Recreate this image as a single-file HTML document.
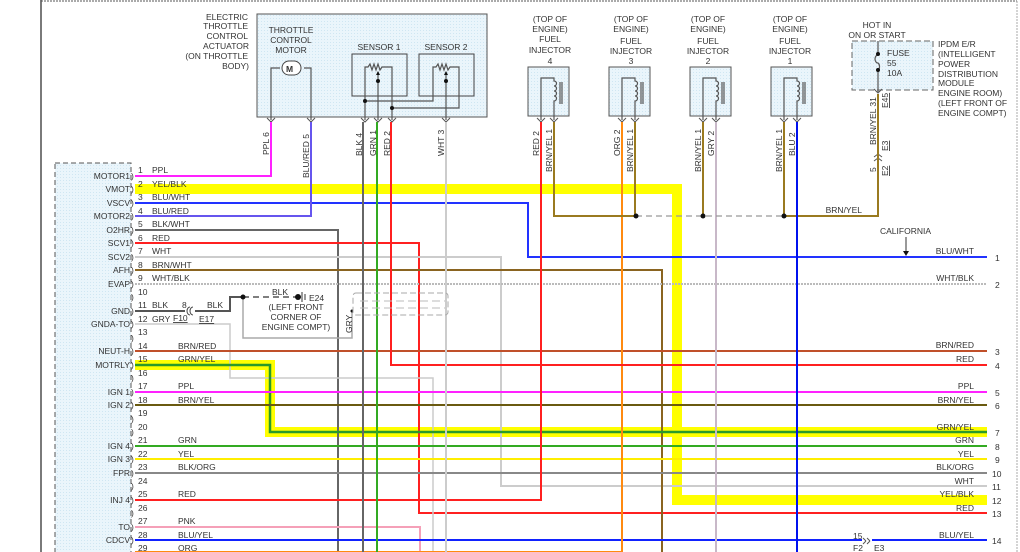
<!DOCTYPE html>
<html><head><meta charset="utf-8"><style>
html,body{margin:0;padding:0;background:#fff}
svg{display:block}
text{font-family:"Liberation Sans",sans-serif;font-size:8.5px;fill:#333}
</style></head><body>
<svg width="1020" height="552" viewBox="0 0 1020 552" xmlns="http://www.w3.org/2000/svg">
<defs>
<pattern id="dots" width="3" height="3" patternUnits="userSpaceOnUse"><rect width="3" height="3" fill="#eaf5fb"/><rect width="1" height="1" fill="#cfe6f2"/></pattern>
</defs>
<line x1="41" y1="0" x2="41" y2="552" stroke="#222" stroke-width="1.2"/>
<line x1="41" y1="1" x2="1017" y2="1" stroke="#555" stroke-dasharray="2,1"/>
<line x1="1017" y1="1" x2="1017" y2="552" stroke="#aaa" stroke-dasharray="2,1"/>

<rect x="55" y="163" width="76" height="395" fill="url(#dots)" stroke="#555" stroke-dasharray="5,3"/>
<g text-anchor="end">
<text x="130" y="179">MOTOR1</text><text x="130" y="192">VMOT</text><text x="130" y="206">VSCV</text><text x="130" y="219">MOTOR2</text>
<text x="130" y="233">O2HR</text><text x="130" y="246">SCV1</text><text x="130" y="260">SCV2</text><text x="130" y="273">AFH</text>
<text x="130" y="287">EVAP</text><text x="130" y="314">GND</text><text x="130" y="327">GNDA-TO</text><text x="130" y="354">NEUT-H</text>
<text x="130" y="368">MOTRLY</text><text x="130" y="395">IGN 1</text><text x="130" y="408">IGN 2</text><text x="130" y="449">IGN 4</text>
<text x="130" y="462">IGN 3</text><text x="130" y="476">FPR</text><text x="130" y="503">INJ 4</text><text x="130" y="530">TO</text><text x="130" y="543">CDCV</text>
</g>
<g font-size="8">
<text x="131" y="179">)</text><text x="131" y="192">)</text><text x="131" y="206">)</text><text x="131" y="219">)</text><text x="131" y="233">)</text><text x="131" y="246">)</text><text x="131" y="260">)</text><text x="131" y="273">)</text><text x="131" y="287">)</text><text x="131" y="300">)</text><text x="131" y="314">)</text><text x="131" y="327">)</text><text x="131" y="341">)</text><text x="131" y="354">)</text><text x="131" y="368">)</text><text x="131" y="381">)</text><text x="131" y="395">)</text><text x="131" y="408">)</text><text x="131" y="422">)</text><text x="131" y="435">)</text><text x="131" y="449">)</text><text x="131" y="462">)</text><text x="131" y="476">)</text><text x="131" y="489">)</text><text x="131" y="503">)</text><text x="131" y="516">)</text><text x="131" y="530">)</text><text x="131" y="543">)</text>
</g>

<g text-anchor="end"><text x="248" y="20">ELECTRIC</text><text x="248" y="29">THROTTLE</text><text x="248" y="39">CONTROL</text><text x="249" y="49">ACTUATOR</text><text x="248" y="59">(ON THROTTLE</text><text x="249" y="69">BODY)</text></g>
<rect x="257" y="14" width="230" height="103" fill="url(#dots)" stroke="#555"/>
<g text-anchor="middle"><text x="291" y="33">THROTTLE</text><text x="291" y="43">CONTROL</text><text x="291" y="53">MOTOR</text><text x="379" y="50">SENSOR 1</text><text x="446" y="50">SENSOR 2</text></g>
<rect x="352" y="54" width="55" height="42" fill="none" stroke="#444"/>
<rect x="419" y="54" width="55" height="42" fill="none" stroke="#444"/>
<g fill="none" stroke="#555" stroke-width="1.2">
<path d="M271 120 V68 H280 M304 68 H311 V120"/>
<path d="M365 120 V67 H368 l2 -3 l2 6 l2 -6 l2 6 l2 -6 l2 6 l2 -3 H392 V120"/>
<path d="M378 120 V72"/>
<path d="M365 101 H433 V67 H436 l2 -3 l2 6 l2 -6 l2 6 l2 -6 l2 6 l2 -3 H459 V108 H392"/>
<path d="M446 120 V72"/>
</g>
<rect x="282" y="61" width="19" height="14" rx="7" fill="#fff" stroke="#444"/>
<text x="286" y="72" font-weight="bold" font-size="10">M</text>
<g fill="#111"><circle cx="378" cy="81" r="2"/><circle cx="446" cy="81" r="2"/><circle cx="365" cy="101" r="2"/><circle cx="392" cy="108" r="2"/><path d="M376 75 l2 -4 l2 4z"/><path d="M444 75 l2 -4 l2 4z"/></g>

<g fill="url(#dots)" stroke="#555"><rect x="528" y="67" width="41" height="49"/><rect x="609" y="67" width="41" height="49"/><rect x="690" y="67" width="41" height="49"/><rect x="771" y="67" width="41" height="49"/></g>
<g fill="none" stroke="#555" stroke-width="1.2">
<path d="M541 120 V78 H554 v3 a2 2 0 0 1 0 5 a2 2 0 0 1 0 5 a2 2 0 0 1 0 5 a2 2 0 0 1 0 5 V120 M560 82 V104 M562 82 V104"/>
<path d="M622 120 V78 H635 v3 a2 2 0 0 1 0 5 a2 2 0 0 1 0 5 a2 2 0 0 1 0 5 a2 2 0 0 1 0 5 V120 M641 82 V104 M643 82 V104"/>
<path d="M703 120 V78 H716 v3 a2 2 0 0 1 0 5 a2 2 0 0 1 0 5 a2 2 0 0 1 0 5 a2 2 0 0 1 0 5 V120 M722 82 V104 M724 82 V104"/>
<path d="M784 120 V78 H797 v3 a2 2 0 0 1 0 5 a2 2 0 0 1 0 5 a2 2 0 0 1 0 5 a2 2 0 0 1 0 5 V120 M803 82 V104 M805 82 V104"/>
</g>
<g text-anchor="middle">
<text x="550" y="22">(TOP OF</text><text x="550" y="32">ENGINE)</text><text x="550" y="42">FUEL</text><text x="550" y="53">INJECTOR</text><text x="550" y="64">4</text>
<text x="631" y="22">(TOP OF</text><text x="631" y="32">ENGINE)</text><text x="631" y="44">FUEL</text><text x="631" y="54">INJECTOR</text><text x="631" y="64">3</text>
<text x="708" y="22">(TOP OF</text><text x="708" y="32">ENGINE)</text><text x="708" y="44">FUEL</text><text x="708" y="54">INJECTOR</text><text x="708" y="64">2</text>
<text x="790" y="22">(TOP OF</text><text x="790" y="32">ENGINE)</text><text x="790" y="44">FUEL</text><text x="790" y="54">INJECTOR</text><text x="790" y="64">1</text>
<text x="877" y="28">HOT IN</text><text x="877" y="38">ON OR START</text>
</g>
<rect x="852" y="41" width="81" height="49" fill="url(#dots)" stroke="#666" stroke-dasharray="6,3"/>
<path d="M878 41 V54 M878 70 V92 M878 55 a3 4 0 0 0 0 8 a3 4 0 0 1 0 7" fill="none" stroke="#555" stroke-width="1.2"/>
<circle cx="878" cy="54" r="2" fill="#111"/><circle cx="878" cy="70" r="2" fill="#111"/>
<text x="887" y="56">FUSE</text><text x="887" y="66">55</text><text x="887" y="76">10A</text>
<g><text x="938" y="47">IPDM E/R</text><text x="938" y="57">(INTELLIGENT</text><text x="938" y="67">POWER</text><text x="938" y="77">DISTRIBUTION</text><text x="938" y="86">MODULE</text><text x="938" y="96">ENGINE ROOM)</text><text x="938" y="106">(LEFT FRONT OF</text><text x="938" y="116">ENGINE COMPT)</text></g>

<g fill="none" stroke="#555" stroke-width="1">
<path d="M267 118 l4 4 l4 -4 M307 118 l4 4 l4 -4 M361 118 l4 4 l4 -4 M374 118 l4 4 l4 -4 M388 118 l4 4 l4 -4 M442 118 l4 4 l4 -4"/>
<path d="M537 118 l4 4 l4 -4 M550 118 l4 4 l4 -4 M618 118 l4 4 l4 -4 M631 118 l4 4 l4 -4 M699 118 l4 4 l4 -4 M712 118 l4 4 l4 -4 M780 118 l4 4 l4 -4 M793 118 l4 4 l4 -4 M874 89 l4 4 l4 -4"/>
<path d="M874 157 l4 -3 l4 3 M874 161 l4 -3 l4 3 M870 541 l-3 -3 M870 541 l-3 3 M866 541 l-3 -3 M866 541 l-3 3"/>
</g>

<g font-size="8">
<text transform="translate(269,155) rotate(-90)">PPL   6</text>
<text transform="translate(309,178) rotate(-90)">BLU/RED   5</text>
<text transform="translate(362,156) rotate(-90)">BLK   4</text>
<text transform="translate(376,156) rotate(-90)">GRN   1</text>
<text transform="translate(390,156) rotate(-90)">RED   2</text>
<text transform="translate(444,156) rotate(-90)">WHT   3</text>
<text transform="translate(539,156) rotate(-90)">RED   2</text>
<text transform="translate(552,172) rotate(-90)">BRN/YEL   1</text>
<text transform="translate(620,156) rotate(-90)">ORG   2</text>
<text transform="translate(633,172) rotate(-90)">BRN/YEL   1</text>
<text transform="translate(701,172) rotate(-90)">BRN/YEL   1</text>
<text transform="translate(714,156) rotate(-90)">GRY   2</text>
<text transform="translate(782,172) rotate(-90)">BRN/YEL   1</text>
<text transform="translate(795,156) rotate(-90)">BLU   2</text>
<text transform="translate(876,145) rotate(-90)">BRN/YEL   31</text>
<text transform="translate(888,108) rotate(-90)" text-decoration="underline">E45</text>
<text transform="translate(888,151) rotate(-90)" text-decoration="underline">E3</text>
<text transform="translate(876,172) rotate(-90)">5</text>
<text transform="translate(888,176) rotate(-90)" text-decoration="underline">E2</text>
</g>

<path d="M135 189 H677 V500 H987" fill="none" stroke="#ffff00" stroke-width="10"/>
<path d="M135 365 H270 V432 H987" fill="none" stroke="#ffff00" stroke-width="10"/>

<g fill="none" stroke-width="2">
<path d="M135 176 H271 V122" stroke="#ff22ff"/>
<path d="M135 203 H528 V257 H987" stroke="#2233ff"/>
<path d="M135 216 H311 V122" stroke="#6655ee"/>
<path d="M135 230 H338 V552" stroke="#666"/>
<path d="M135 243 H419 V513 H987" stroke="#ff2020"/>
<path d="M135 257 H501 V486 H987" stroke="#ccc"/>
<path d="M135 270 H662 V552" stroke="#8a6420"/>
<path d="M135 284 H987" stroke="#bbb" stroke-dasharray="2,1"/>
<path d="M135 311 H185 M195 311 H230 V297 H243" stroke="#555"/>
<path d="M243 297 H298" stroke="#555" stroke-dasharray="6,4" stroke-width="1.6"/>
<path d="M243 297 V338 H352 V311" stroke="#aaa" stroke-width="1.5"/>
<path d="M135 324 H230 V378 H433 V552" stroke="#ccc" stroke-width="1.5"/>
<path d="M135 351 H987" stroke="#c0502a"/>
<path d="M135 365 H270 V432 H987" stroke="#2a9a2a" stroke-width="2.5"/>
<path d="M135 392 H987" stroke="#ff22ff"/>
<path d="M135 405 H987" stroke="#6a5a10"/>
<path d="M135 446 H987" stroke="#33aa22"/>
<path d="M135 459 H987" stroke="#ffee00"/>
<path d="M135 473 H987" stroke="#888"/>
<path d="M135 500 H541 V122" stroke="#ff2020"/>
<path d="M135 527 H420 V552" stroke="#f5a0b8"/>
<path d="M135 540 H862 M872 540 H987" stroke="#1122ff"/>
<path d="M135 552 H622 V122" stroke="#ff8a10"/>
<path d="M363 122 V552" stroke="#666"/>
<path d="M377 122 V552" stroke="#33aa22"/>
<path d="M391 122 V365 H987" stroke="#ff2020"/>
<path d="M446 122 V552" stroke="#ccc"/>
<path d="M554 122 V216 H636" stroke="#9a7a20"/>
<path d="M635 122 V216" stroke="#9a7a20"/>
<path d="M703 122 V216" stroke="#9a7a20"/>
<path d="M784 122 V216 H878 V94" stroke="#9a7a20"/>
<path d="M716 122 V552" stroke="#c8b8c8"/>
<path d="M797 122 V552" stroke="#0011ee"/>
</g>
<path d="M636 216 H784" stroke="#999" stroke-dasharray="6,4" stroke-width="1.3"/>
<g fill="#111"><circle cx="636" cy="216" r="2.5"/><circle cx="703" cy="216" r="2.5"/><circle cx="784" cy="216" r="2.5"/><circle cx="243" cy="297" r="2.5"/><circle cx="298" cy="297" r="3"/><circle cx="352" cy="311" r="1.5"/></g>
<path d="M302 292 V302 M305 294 V300" stroke="#333"/>
<text x="309" y="301">E24</text>
<text x="272" y="295">BLK</text>
<text x="207" y="308">BLK</text><text x="182" y="308">8</text>
<path d="M190 307 a3 4 0 0 0 0 8 M193 307 a3 4 0 0 0 0 8" fill="none" stroke="#444"/>
<text x="173" y="321" text-decoration="underline">F10</text><text x="199" y="322" text-decoration="underline">E17</text>
<g text-anchor="middle"><text x="296" y="310">(LEFT FRONT</text><text x="296" y="320">CORNER OF</text><text x="296" y="330">ENGINE COMPT)</text></g>
<text transform="translate(352,333) rotate(-90)" font-size="8">GRY</text>
<rect x="353" y="293" width="95" height="22" rx="3" fill="none" stroke="#aaa" stroke-dasharray="6,3"/>
<path d="M360 301 H445 M360 308 H445" stroke="#bbb" stroke-dasharray="8,4"/>

<!-- pin numbers & wire names on top -->
<g>
<text x="138" y="173">1</text><text x="138" y="187">2</text><text x="138" y="200">3</text><text x="138" y="214">4</text><text x="138" y="227">5</text><text x="138" y="241">6</text><text x="138" y="254">7</text><text x="138" y="268">8</text><text x="138" y="281">9</text><text x="138" y="295">10</text><text x="138" y="308">11</text><text x="138" y="322">12</text><text x="138" y="335">13</text><text x="138" y="349">14</text><text x="138" y="362">15</text><text x="138" y="376">16</text><text x="138" y="389">17</text><text x="138" y="403">18</text><text x="138" y="416">19</text><text x="138" y="430">20</text><text x="138" y="443">21</text><text x="138" y="457">22</text><text x="138" y="470">23</text><text x="138" y="484">24</text><text x="138" y="497">25</text><text x="138" y="511">26</text><text x="138" y="524">27</text><text x="138" y="538">28</text><text x="138" y="551">29</text>
</g>
<g>
<text x="152" y="173">PPL</text><text x="152" y="187">YEL/BLK</text><text x="152" y="200">BLU/WHT</text><text x="152" y="214">BLU/RED</text><text x="152" y="227">BLK/WHT</text><text x="152" y="241">RED</text><text x="152" y="254">WHT</text><text x="152" y="268">BRN/WHT</text><text x="152" y="281">WHT/BLK</text><text x="152" y="308">BLK</text><text x="152" y="322">GRY</text>
<text x="178" y="349">BRN/RED</text><text x="178" y="362">GRN/YEL</text><text x="178" y="389">PPL</text><text x="178" y="403">BRN/YEL</text><text x="178" y="443">GRN</text><text x="178" y="457">YEL</text><text x="178" y="470">BLK/ORG</text><text x="178" y="497">RED</text><text x="178" y="524">PNK</text><text x="178" y="538">BLU/YEL</text><text x="178" y="551">ORG</text>
</g>

<g text-anchor="end">
<text x="974" y="254">BLU/WHT</text><text x="974" y="281">WHT/BLK</text><text x="974" y="348">BRN/RED</text><text x="974" y="362">RED</text>
<text x="974" y="389">PPL</text><text x="974" y="403">BRN/YEL</text><text x="974" y="430">GRN/YEL</text><text x="974" y="443">GRN</text>
<text x="974" y="457">YEL</text><text x="974" y="470">BLK/ORG</text><text x="974" y="484">WHT</text><text x="974" y="497">YEL/BLK</text>
<text x="974" y="511">RED</text><text x="974" y="538">BLU/YEL</text><text x="862" y="213">BRN/YEL</text>
</g>
<g><text x="995" y="261">1</text><text x="995" y="288">2</text><text x="995" y="355">3</text><text x="995" y="369">4</text><text x="995" y="396">5</text><text x="995" y="409">6</text><text x="995" y="436">7</text><text x="995" y="450">8</text><text x="995" y="463">9</text><text x="992" y="477">10</text><text x="992" y="490">11</text><text x="992" y="504">12</text><text x="992" y="517">13</text><text x="992" y="544">14</text></g>
<text x="880" y="234">CALIFORNIA</text>
<path d="M906 237 V253" stroke="#333"/><path d="M903 251 l3 5 l3 -5z" fill="#111"/>
<text x="853" y="539">15</text><text x="853" y="551" text-decoration="underline">F2</text><text x="874" y="551" text-decoration="underline">E3</text>
</svg>
</body></html>
